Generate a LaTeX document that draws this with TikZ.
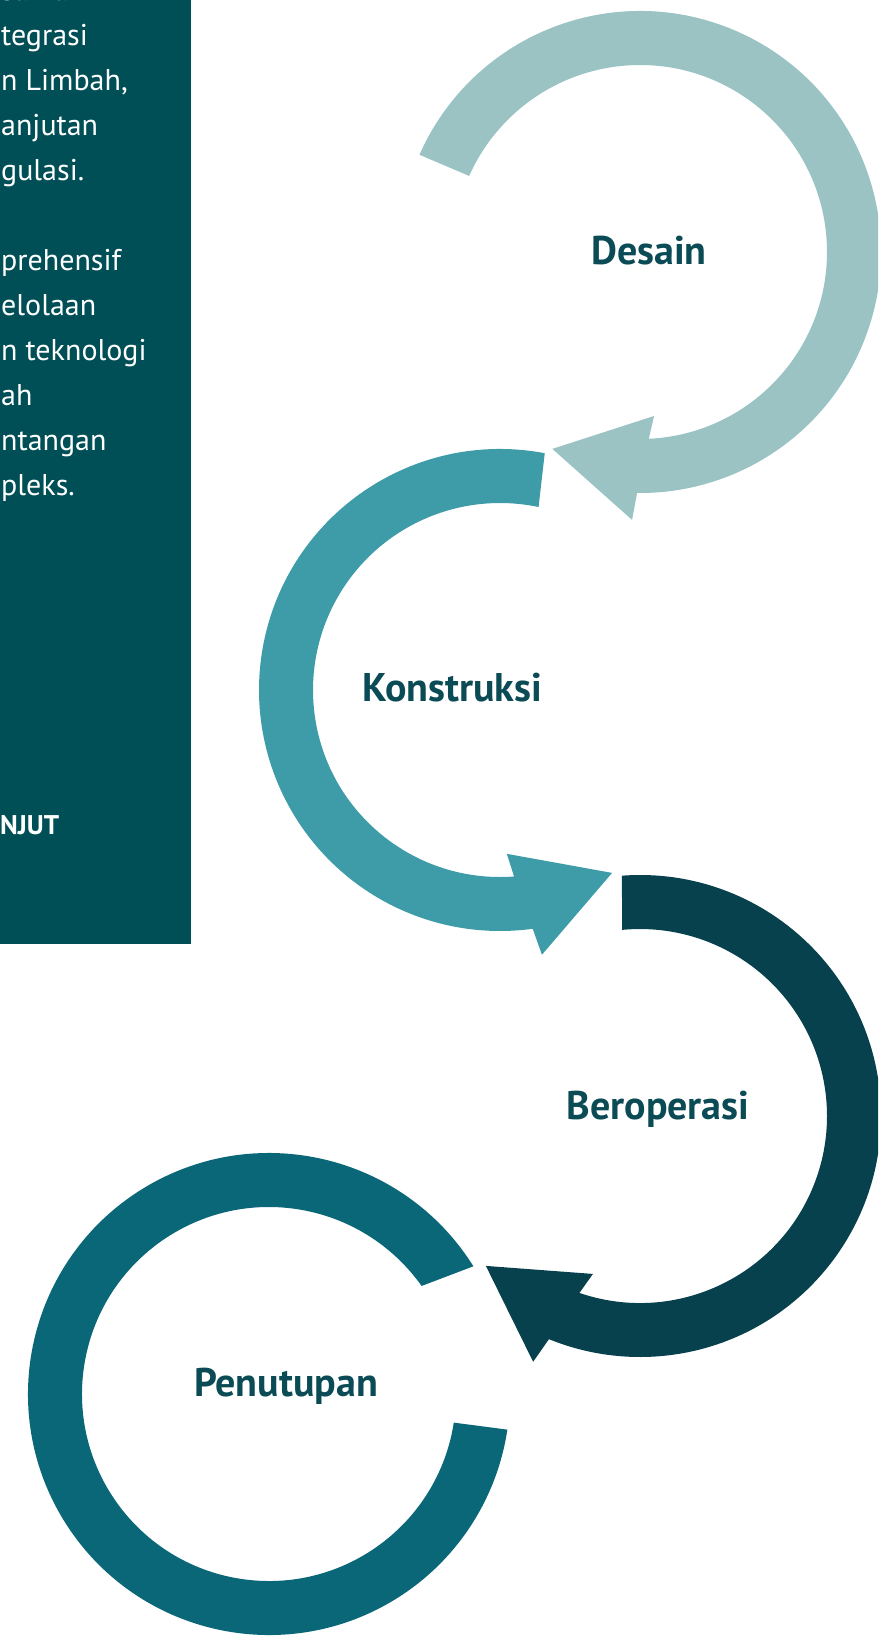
\documentclass[tikz,border=0pt]{standalone}
\usepackage{fontspec}
\setmainfont{PT Sans}
\definecolor{desainc}{HTML}{9BC3C3}
\definecolor{konstc}{HTML}{3E9CA8}
\definecolor{beropc}{HTML}{07414D}
\definecolor{penutc}{HTML}{0A6777}
\definecolor{labelc}{HTML}{0B4B55}
\definecolor{panelc}{HTML}{014F56}
\tikzset{
  lbl/.style={anchor=base, text=labelc, font=\fontsize{40}{48}\selectfont\bfseries, inner sep=0},
  ptxt/.style={anchor=base west, text=white, font=\fontsize{30}{36}\selectfont, inner sep=0},
  pbold/.style={anchor=base west, text=white, font=\fontsize{27}{32}\selectfont\bfseries, inner sep=0}
}
\begin{document}
\begin{tikzpicture}[x=1pt,y=1pt]
\useasboundingbox (0,0) rectangle (878,-1638);
\clip (0,0) rectangle (878,-1638);
\fill[white] (0,0) rectangle (878,-1638);
% left panel
\fill[panelc] (0,0) rectangle (191,-944);
\node[ptxt] (t0) at (1,-1) {sarkan};
\node[ptxt] (t1) at (1,-45) {tegrasi};
\node[ptxt] (t2) at (1,-90) {n Limbah,};
\node[ptxt] (t3) at (1,-135) {anjutan};
\node[ptxt] (t4) at (1,-180) {gulasi.};
\node[ptxt] (t5) at (1,-270) {prehensif};
\node[ptxt] (t6) at (1,-315) {elolaan};
\node[ptxt] (t7) at (1,-360) {n teknologi};
\node[ptxt] (t8) at (1,-405) {ah};
\node[ptxt] (t9) at (1,-450) {ntangan};
\node[ptxt] (t10) at (1,-495) {pleks.};
\node[pbold] (t11) at (0,-834) {NJUT};
% Desain ring
\begin{scope}[shift={(640,-252)}]
\fill[desainc] (156.2:241) arc[start angle=156.2, end angle=-90.7, radius=241]
  -- (-91.7:268) -- (-114:215.5) -- (-85.1:164.6) -- (-87.3:187)
  arc[start angle=-87.3, end angle=156, radius=187] -- cycle;
\end{scope}
% Konstruksi ring
\begin{scope}[shift={(500,-690)}]
\fill[konstc] (79.3:241) arc[start angle=79.3, end angle=277.8, radius=241]
  -- (279:268) -- (301.5:214.5) -- (272.4:164) -- (274.3:187)
  arc[start angle=274.3, end angle=78.1, radius=187] -- cycle;
\end{scope}
% Beroperasi ring
\begin{scope}[shift={(640,-1116)}]
\fill[beropc] (94.3:241) arc[start angle=94.3, end angle=-112.2, radius=241]
  -- (-113.5:268) -- (-135.8:215) -- (-106.6:164.8) -- (-108.9:187)
  arc[start angle=-108.9, end angle=95.5, radius=187] -- cycle;
\end{scope}
% Penutupan ring
\begin{scope}[shift={(269,-1394)}]
\fill[penutc] (32:241) arc[start angle=32, end angle=351.5, radius=241]
  -- (351.2:187) arc[start angle=351.2, end angle=35.3, radius=187] -- cycle;
\end{scope}
% labels
\node[lbl] (desain) at (649,-264) {Desain};
\node[lbl] (konstruksi) at (452,-701) {Konstruksi};
\node[lbl] (beroperasi) at (658,-1119) {Beroperasi};
\node[lbl] (penutupan) at (286,-1396) {Penutupan};
\end{tikzpicture}
\end{document}
